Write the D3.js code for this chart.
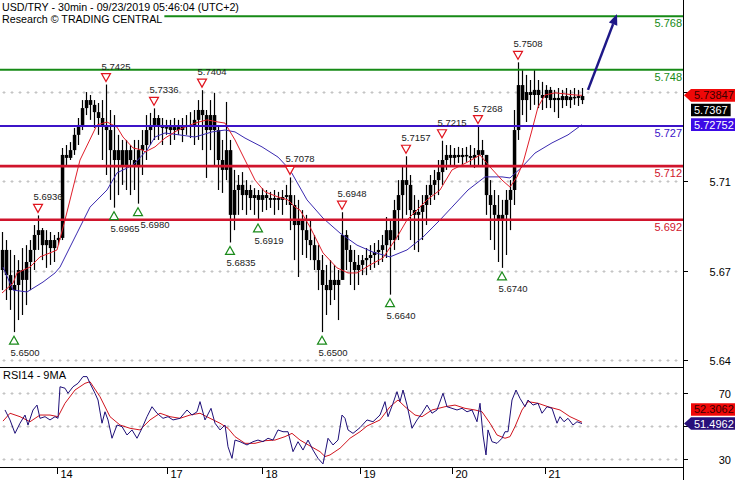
<!DOCTYPE html>
<html><head><meta charset="utf-8">
<script src="https://cdn.jsdelivr.net/npm/d3@7"></script>
<style>html,body{margin:0;padding:0;background:#fff;}svg{display:block;font-family:"Liberation Sans",Arial,sans-serif;}</style>
</head><body><svg id="c" width="735" height="480"></svg>
<script>
// ---------------- DATA (hourly bars, index 0..145) ----------------
const firstOpen = 5.6732;
const highs = [5.6874,5.6844,5.6807,5.6788,5.6769,5.6814,5.6825,5.6844,5.6900,5.6936,
5.6889,5.6881,5.6874,5.6863,5.6874,5.7188,5.7199,5.7210,5.7263,5.7300,
5.7367,5.7397,5.7386,5.7367,5.7356,5.7367,5.7425,5.7330,5.7311,5.7237,
5.7218,5.7218,5.7199,5.7218,5.7218,5.7255,5.7311,5.7319,5.7336,5.7311,
5.7300,5.7293,5.7293,5.7300,5.7293,5.7300,5.7311,5.7322,5.7330,5.7367,
5.7404,5.7330,5.7367,5.7394,5.7274,5.7218,5.7360,5.7218,5.7106,5.7087,
5.7098,5.7068,5.7050,5.7038,5.7031,5.7038,5.7031,5.7024,5.7031,5.7024,
5.7031,5.7050,5.7078,5.7012,5.6994,5.6956,5.6938,5.6919,5.6863,5.6825,
5.6788,5.6751,5.6769,5.6751,5.6732,5.6948,5.6881,5.6825,5.6807,5.6788,
5.6788,5.6814,5.6825,5.6833,5.6844,5.6863,5.6930,5.6919,5.6994,5.7068,
5.7124,5.7157,5.7087,5.7012,5.6994,5.7012,5.7050,5.7087,5.7106,5.7143,
5.7215,5.7199,5.7199,5.7188,5.7192,5.7188,5.7192,5.7199,5.7188,5.7268,
5.7218,5.7143,5.7068,5.7031,5.7012,5.6994,5.7031,5.7068,5.7330,5.7508,
5.7479,5.7461,5.7442,5.7479,5.7442,5.7435,5.7423,5.7416,5.7405,5.7412,
5.7405,5.7412,5.7405,5.7412,5.7405,5.7412];
const lows = [5.6657,5.6620,5.6583,5.6500,5.6545,5.6564,5.6601,5.6657,5.6732,5.6807,
5.6769,5.6740,5.6751,5.6762,5.6825,5.6844,5.7124,5.7143,5.7162,5.7199,
5.7255,5.7311,5.7293,5.7263,5.7237,5.7143,5.7087,5.6994,5.6965,5.7012,
5.7050,5.7031,5.7012,5.7031,5.6980,5.7087,5.7143,5.7199,5.7218,5.7218,
5.7199,5.7237,5.7199,5.7218,5.7237,5.7210,5.7237,5.7225,5.7199,5.7218,
5.7180,5.7076,5.7180,5.7124,5.7031,5.7020,5.7068,5.6835,5.6881,5.6938,
5.6956,5.6938,5.6956,5.6938,5.6919,5.6949,5.6956,5.6964,5.6938,5.6956,
5.6938,5.6975,5.6881,5.6769,5.6706,5.6788,5.6777,5.6769,5.6732,5.6657,
5.6500,5.6564,5.6601,5.6620,5.6545,5.6695,5.6732,5.6676,5.6657,5.6676,
5.6713,5.6713,5.6732,5.6740,5.6751,5.6762,5.6777,5.6640,5.6807,5.6844,
5.6919,5.6938,5.6844,5.6807,5.6799,5.6844,5.6900,5.6975,5.6994,5.7012,
5.7050,5.7106,5.7124,5.7124,5.7132,5.7124,5.7136,5.7124,5.7113,5.7124,
5.7124,5.6938,5.6844,5.6807,5.6762,5.6740,5.6788,5.6881,5.6975,5.7218,
5.7311,5.7285,5.7330,5.7349,5.7337,5.7330,5.7337,5.7337,5.7322,5.7300,
5.7337,5.7345,5.7337,5.7349,5.7345,5.7352];
const closes = [5.6807,5.6713,5.6657,5.6676,5.6732,5.6695,5.6762,5.6807,5.6863,5.6881,
5.6825,5.6844,5.6814,5.6844,5.6852,5.7162,5.7151,5.7180,5.7237,5.7274,
5.7337,5.7367,5.7349,5.7322,5.7300,5.7274,5.7255,5.7180,5.7143,5.7180,
5.7124,5.7180,5.7143,5.7124,5.7180,5.7199,5.7255,5.7274,5.7300,5.7274,
5.7263,5.7266,5.7255,5.7266,5.7255,5.7270,5.7274,5.7274,5.7293,5.7330,
5.7311,5.7255,5.7311,5.7255,5.7143,5.7106,5.7180,5.6938,5.7031,5.7050,
5.7012,5.7031,5.7001,5.7012,5.6994,5.7012,5.7001,5.6994,5.7001,5.6994,
5.7005,5.7012,5.6975,5.6900,5.6919,5.6881,5.6844,5.6825,5.6769,5.6732,
5.6676,5.6657,5.6695,5.6676,5.6695,5.6863,5.6807,5.6762,5.6732,5.6751,
5.6769,5.6777,5.6788,5.6799,5.6807,5.6825,5.6881,5.6844,5.6956,5.7012,
5.7068,5.7050,5.6956,5.6938,5.6949,5.6975,5.7012,5.7050,5.7068,5.7098,
5.7143,5.7162,5.7151,5.7162,5.7154,5.7162,5.7158,5.7151,5.7162,5.7180,
5.7162,5.7012,5.6975,5.6938,5.6919,5.6938,5.6994,5.7031,5.7255,5.7423,
5.7367,5.7397,5.7386,5.7405,5.7386,5.7375,5.7405,5.7367,5.7375,5.7367,
5.7382,5.7367,5.7379,5.7375,5.7382,5.7367];

// moving averages on price: [bar index, value]
const maFast = [[0,5.6646],[2.75,5.6683],[3.75,5.6721],[7,5.6743],[9.5,5.6781],[12.5,5.6799],[13.75,5.6807],
[15.75,5.6919],[19.5,5.7143],[23.75,5.7274],[26.25,5.7285],[28.75,5.7266],[30.25,5.7229],[32.75,5.7188],
[35.25,5.7180],[35.75,5.7173],[38.25,5.7192],[40.75,5.7225],[44,5.7255],[48.25,5.7281],[51.25,5.7293],
[54,5.7285],[55.75,5.7281],[58.25,5.7218],[60.75,5.7143],[63.25,5.7068],[65.75,5.7024],[69,5.7005],
[71.5,5.6994],[73.25,5.6967],[74.5,5.6956],[77,5.6893],[80.25,5.6796],[83.75,5.6740],[86.5,5.6721],
[88.75,5.6721],[92,5.6751],[95.25,5.6777],[98.75,5.6855],[101.25,5.6919],[103.75,5.6956],[106.25,5.6994],
[109.5,5.7031],[112.5,5.7106],[116.5,5.7136],[119.5,5.7162],[122,5.7117],[125,5.7068],[127,5.7042],
[128.75,5.7080],[130.25,5.7132],[132.5,5.7255],[134,5.7341],[135.75,5.7386],[138.25,5.7394],[143.25,5.7386],[145,5.73847]];
const maSlow = [[0.25,5.6743],[2.75,5.6657],[6.25,5.6650],[10.25,5.6687],[13.25,5.6721],[14.5,5.6743],[18.75,5.6870],
[22,5.6967],[26.25,5.7031],[28.75,5.7095],[32.75,5.7124],[36.25,5.7180],[38.25,5.7229],[40.75,5.7244],
[48.25,5.7229],[52.5,5.7248],[55.75,5.7255],[58.25,5.7248],[60.75,5.7225],[65,5.7192],[69,5.7154],
[72,5.7106],[76.25,5.6994],[80.25,5.6926],[84.5,5.6870],[88.75,5.6825],[92.75,5.6799],[97,5.6781],
[101.25,5.6807],[105.25,5.6855],[109.5,5.6919],[112.5,5.6967],[116.5,5.7031],[120.75,5.7080],[125,5.7080],
[127,5.7076],[130,5.7117],[133.25,5.7169],[137.5,5.7207],[141.5,5.7237],[145,5.72752]];

// RSI14 and its 9MA: [bar index, value]
const rsi14 = [[0.75,59.8],[2,53.7],[3.25,45.5],[4.5,51.7],[5.75,56.7],[6.5,50.6],[7.75,59.8],[8.75,62.8],[9.5,54.7],
[10.75,55.7],[12,53.7],[13.25,55.7],[14,54.7],[14.5,74.0],[15.75,73.1],[16.5,70.0],[17.75,74.0],[19,76.1],
[20.25,80.2],[21.25,80.2],[22,76.1],[23.25,70.0],[24,65.9],[25,51.7],[25.75,58.7],[26.5,53.7],[27.5,42.5],
[28.75,50.6],[30,49.6],[31.25,44.5],[32.5,47.6],[33.75,42.5],[35,48.6],[36.25,55.7],[37.5,61.8],[38.75,57.8],
[40.25,54.7],[41.5,55.7],[42.75,53.7],[44.5,54.7],[46.25,59.8],[47.5,56.7],[48.75,58.7],[49.5,64.9],[50.75,53.7],
[52.25,60.8],[53.25,51.7],[54.5,47.6],[55.75,50.6],[56.5,37.3],[57.5,30.2],[58.25,41.4],[59.5,40.4],[61.25,38.4],
[62.75,40.4],[64,41.4],[65.25,40.4],[66.5,42.5],[67.75,41.4],[69,47.6],[70.25,46.5],[71.5,46.5],[72.75,34.3],
[74,40.4],[75.25,35.3],[76.5,41.4],[77.75,35.3],[79,30.2],[80.25,26.8],[81.5,42.5],[82.75,38.4],[84,41.4],
[85,56.7],[85.75,54.7],[86.5,47.6],[87.75,45.5],[89.5,49.0],[91.25,53.7],[92.75,52.6],[94.5,56.7],[95.75,64.9],
[96.5,55.7],[97.75,63.9],[98.75,71.0],[99.5,64.9],[100.25,72.0],[101.25,62.8],[102.5,48.6],[103.75,53.7],
[105,57.8],[106.25,62.8],[107.5,57.8],[108.75,59.8],[110.25,70.0],[111.25,61.8],[112.5,60.8],[113.75,59.8],
[115,60.8],[116.25,58.7],[117.5,59.8],[118.75,52.6],[119.5,63.9],[120.25,44.5],[121,32.3],[121.5,47.6],
[122.5,40.4],[123.75,39.4],[125,42.5],[125.75,46.5],[126.5,46.5],[127.5,65.9],[128.5,72.0],[129.5,66.9],
[130.75,61.8],[131.5,65.9],[132.75,62.8],[134,63.9],[135,57.8],[136.25,61.8],[137.5,60.8],[138.75,51.7],
[139.5,55.7],[140.5,52.6],[141.5,54.7],[142.75,50.6],[143.75,52.6],[145,51.4962]];
const rsiMa9 = [[0.25,53.0],[2,57.8],[4.5,55.7],[7,52.6],[9.5,56.7],[12,56.7],[14,55.7],[15.75,63.9],[18.25,72.0],
[20.75,76.1],[22,77.1],[24.5,67.9],[27,55.7],[29.5,50.6],[32,48.6],[34.5,47.6],[37,53.7],[39.5,57.8],[42,55.7],
[44.5,54.7],[47,56.7],[49.5,57.8],[52,54.7],[54.5,51.7],[56.5,48.6],[58.25,43.5],[60.75,39.4],[63.25,39.4],
[65.75,41.0],[68.25,41.4],[70.75,43.5],[72.5,45.5],[74.5,41.4],[77,37.8],[79.5,34.3],[80.75,31.3],[82,32.3],
[84.5,36.4],[87,42.5],[89.5,46.5],[91.25,50.0],[94.5,53.7],[97,61.8],[99,65.9],[100.75,61.8],[103.25,56.7],
[105,55.7],[107.5,59.8],[110.75,61.8],[113.25,62.8],[115.75,60.8],[118.25,59.8],[120,58.7],[122,51.7],
[123.75,44.5],[125.75,42.5],[127,43.5],[128.25,49.6],[130,59.8],[131.5,64.9],[134,63.9],[136.5,61.8],
[139.5,59.8],[142,55.7],[145,52.3062]];

const levelValues = [5.768, 5.748, 5.727, 5.712, 5.692];
const levelTypes  = ["res", "res", "pivot", "sup", "sup"];
const priceTicks = [5.6397, 5.6730, 5.7063, 5.7396];
const rsiTicks = [30, 50, 70];
const dayLabels = ["14", "17", "18", "19", "20", "21"];
const dayStarts = [13.75, 41.25, 65, 89.5, 112.5, 135.75];
const swingHighIdx = [9, 26, 38, 50, 72, 85, 101, 110, 119, 129];
const swingLowIdx = [3, 28, 34, 57, 64, 80, 97, 125];
const lastClose = 5.7367, lastFast = 5.73847, lastSlow = 5.72752;
const lastRsi = 51.4962, lastRsiMa = 52.3062;
const forecast = [[146.5, 5.7405], [153.75, 5.7689]];
const titleLines = ["USD/TRY - 30min - 09/23/2019 05:46:04 (UTC+2)", "Research \u00A9 TRADING CENTRAL"];

// ---------------- LAYOUT ----------------
const svg = d3.select("#c");
const axisX = 683, mainBot = 367, rsiBot = 467;
const x = d3.scaleLinear().domain([0, 145]).range([2, 582]);
const y = d3.scaleLinear().domain([5.692, 5.768]).range([219.7, 16.3]);
const yr = d3.scaleLinear().domain([30, 70]).range([458.7, 393.3]);
const col = {res:"#168a16", pivot:"#3c14c8", sup:"#d0142c"};

svg.append("rect").attr("width",735).attr("height",480).attr("fill","#fff");
const defs = svg.append("defs");
defs.append("clipPath").attr("id","cm").append("rect").attr("x",0).attr("y",0).attr("width",axisX).attr("height",mainBot);
defs.append("clipPath").attr("id","cr").append("rect").attr("x",0).attr("y",mainBot+1).attr("width",axisX).attr("height",rsiBot-mainBot-1);

// dotted "+" grid
function plusGrid(g, yy){
  const p = d3.path();
  d3.range(4, axisX-2, 8).forEach(px=>{ p.moveTo(px-1.5, yy); p.lineTo(px+1.5, yy); p.moveTo(px, yy-1.5); p.lineTo(px, yy+1.5); });
  g.append("path").attr("d", p.toString()).attr("stroke","#c4c4c4").attr("stroke-width",1).attr("fill","none");
}
const grid = svg.append("g");
priceTicks.forEach(t=>plusGrid(grid, Math.round(y(t))+0.5));
rsiTicks.forEach(t=>plusGrid(grid, Math.round(yr(t))+0.5));

// bars
const main = svg.append("g").attr("clip-path","url(#cm)");
const bars = closes.map((c,i)=>({i, o: i===0?firstOpen:closes[i-1], h: highs[i], l: lows[i], c}));
main.append("g").selectAll("line").data(bars).join("line")
  .attr("x1",d=>Math.round(x(d.i))+0.5).attr("x2",d=>Math.round(x(d.i))+0.5)
  .attr("y1",d=>y(Math.max(d.h,d.o,d.c))).attr("y2",d=>y(Math.min(d.l,d.o,d.c)))
  .attr("stroke","#000").attr("stroke-width",1.2);
main.append("g").selectAll("rect").data(bars).join("rect")
  .attr("x",d=>Math.round(x(d.i))-1.2).attr("width",3.5)
  .attr("y",d=>y(Math.max(d.o,d.c))).attr("height",d=>Math.max(1.5, Math.abs(y(d.o)-y(d.c))))
  .attr("fill","#000");

// MAs
const ln = (sx, sy)=>d3.line().x(d=>sx(d[0])).y(d=>sy(d[1]));
main.append("path").attr("d", ln(x,y)(maSlow)).attr("fill","none").attr("stroke","#3a2ab0").attr("stroke-width",1);
main.append("path").attr("d", ln(x,y)(maFast)).attr("fill","none").attr("stroke","#e01e2a").attr("stroke-width",1);

// level lines
levelValues.forEach((v,k)=>{
  const yy = y(v);
  main.append("line").attr("x1",0).attr("x2",axisX).attr("y1",yy).attr("y2",yy)
    .attr("stroke", col[levelTypes[k]]).attr("stroke-width", levelTypes[k]==="sup"?2.6:2);
  svg.append("text").attr("x",682).attr("y",yy+11).attr("text-anchor","end")
    .attr("font-size",11).attr("fill",col[levelTypes[k]]).text(v.toFixed(3));
});

// swing annotations (labels nudged right if they would collide with the previous one)
const ann = svg.append("g");
const placed = [];
function placeLabel(x0, base, txt){
  const t = ann.append("text").attr("x",x0).attr("y",base).attr("font-size",9.5).attr("fill","#222").text(txt);
  let bb = t.node().getBBox();
  placed.forEach(p=>{
    if (bb.x < p.x + p.width && bb.x + bb.width > p.x && bb.y < p.y + p.height && bb.y + bb.height > p.y) {
      t.attr("x", p.x + p.width + 1); bb = t.node().getBBox();
    }
  });
  placed.push(bb);
}
swingHighIdx.forEach(i=>{
  const cx = x(i), b = y(highs[i]) - 3, t = b - 8;
  ann.append("path").attr("d",`M${cx-4.5},${t}L${cx+4.5},${t}L${cx},${b}Z`)
    .attr("fill","#fff").attr("stroke","#e0141e").attr("stroke-width",1.2);
  placeLabel(cx-4.5, t-4, highs[i].toFixed(4));
});
swingLowIdx.forEach(i=>{
  const cx = x(i), t = y(lows[i]) + 4, b = t + 8;
  ann.append("path").attr("d",`M${cx-4.5},${b}L${cx+4.5},${b}L${cx},${t}Z`)
    .attr("fill","#fff").attr("stroke","#1a8a1a").attr("stroke-width",1.2);
  placeLabel(cx-3.5, b+12, lows[i].toFixed(4));
});

// forecast arrow
{
  const x1=x(forecast[0][0]), y1=y(forecast[0][1]), x2=x(forecast[1][0]), y2=y(forecast[1][1]);
  const a=Math.atan2(y2-y1,x2-x1), L=11, w=4.5;
  const bx=x2-L*Math.cos(a), by=y2-L*Math.sin(a);
  svg.append("line").attr("x1",x1).attr("y1",y1).attr("x2",bx).attr("y2",by).attr("stroke","#1e1888").attr("stroke-width",2.5);
  svg.append("path").attr("d",`M${x2},${y2}L${bx+w*Math.sin(a)},${by-w*Math.cos(a)}L${bx-w*Math.sin(a)},${by+w*Math.cos(a)}Z`).attr("fill","#1e1888");
}

// title
const tg = svg.append("g");
titleLines.forEach((s,k)=>{
  const t = tg.append("text").attr("x",2).attr("y",11+k*12).attr("font-size",10.7).attr("fill","#000").text(s);
  const bb = t.node().getBBox();
  tg.insert("rect","text").attr("x",0).attr("y",bb.y).attr("width",bb.x+bb.width+2).attr("height",bb.height).attr("fill","#fff");
});

// RSI panel
const rg = svg.append("g").attr("clip-path","url(#cr)");
rg.append("path").attr("d", ln(x,yr)(rsiMa9)).attr("fill","none").attr("stroke","#d0141e").attr("stroke-width",1);
rg.append("path").attr("d", ln(x,yr)(rsi14)).attr("fill","none").attr("stroke","#1e0f78").attr("stroke-width",1);
svg.append("text").attr("x",3).attr("y",379).attr("font-size",11).attr("fill","#000").text("RSI14 - 9MA");

// frames and axes
svg.append("line").attr("x1",0).attr("x2",axisX).attr("y1",mainBot+0.5).attr("y2",mainBot+0.5).attr("stroke","#000");
svg.append("line").attr("x1",0).attr("x2",axisX).attr("y1",rsiBot+0.5).attr("y2",rsiBot+0.5).attr("stroke","#000");
svg.append("line").attr("x1",axisX+0.5).attr("x2",axisX+0.5).attr("y1",0).attr("y2",480).attr("stroke","#000");

// value boxes (computed first so hidden tick labels can be skipped)
const boxes = [];
function boxSpec(yc, txt, fill, tcol, arrow, right){ boxes.push({yc, txt, fill, tcol, arrow, right, top: yc-6.3, bot: yc+6.3}); return boxes[boxes.length-1]; }
const bF = boxSpec(y(lastFast), lastFast.toFixed(5), "#f00808", "#3a0000", true, true);
const bC = boxSpec(Math.max(y(lastClose), bF.bot + 2 + 6.3), lastClose.toFixed(4), "#000", "#fff", false, false);
boxSpec(Math.max(y(lastSlow), bC.bot + 1.5 + 6.3), lastSlow.toFixed(5), "#3c0ae6", "#fff", false, true);
const bR = boxSpec(yr(lastRsi), lastRsi.toFixed(4), "#28107a", "#fff", true, true);
boxSpec(Math.min(yr(lastRsiMa), bR.top - 1.5 - 6.3), lastRsiMa.toFixed(4), "#f00808", "#3a0000", false, true);
const hidden = yy => boxes.some(b => yy + 4 > b.top - 2 && yy - 5 < b.bot + 2);

const ax = svg.append("g");
priceTicks.forEach(t=>{
  const yy=Math.round(y(t))+0.5;
  ax.append("line").attr("x1",axisX).attr("x2",axisX+5).attr("y1",yy).attr("y2",yy).attr("stroke","#000");
  if(!hidden(yy)) ax.append("text").attr("x",731).attr("y",yy+4).attr("text-anchor","end").attr("font-size",11).text(d3.format(".2f")(t));
});
rsiTicks.forEach(t=>{
  const yy=Math.round(yr(t))+0.5;
  ax.append("line").attr("x1",axisX).attr("x2",axisX+5).attr("y1",yy).attr("y2",yy).attr("stroke","#000");
  if(!hidden(yy)) ax.append("text").attr("x",731).attr("y",yy+4).attr("text-anchor","end").attr("font-size",11).text(t);
});
dayStarts.forEach((d,k)=>{
  const xx=Math.round(x(d))+0.5;
  ax.append("line").attr("x1",xx).attr("x2",xx).attr("y1",rsiBot).attr("y2",rsiBot+7).attr("stroke","#000");
  ax.append("text").attr("x",xx+3).attr("y",478).attr("font-size",11).text(dayLabels[k]);
});

boxes.forEach(b=>{
  const g = svg.append("g");
  const t = g.append("text").attr("x",694).attr("y",b.yc+4).attr("font-size",11).attr("fill",b.tcol).text(b.txt);
  const w = t.node().getComputedTextLength();
  const r = b.right ? 735 : 694 + w + 3;
  const d = b.arrow ? `M684,${b.yc}L691,${b.top}L${r},${b.top}L${r},${b.bot}L691,${b.bot}Z`
                    : `M691,${b.top}L${r},${b.top}L${r},${b.bot}L691,${b.bot}Z`;
  g.insert("path","text").attr("d",d).attr("fill",b.fill);
});
</script></body></html>
